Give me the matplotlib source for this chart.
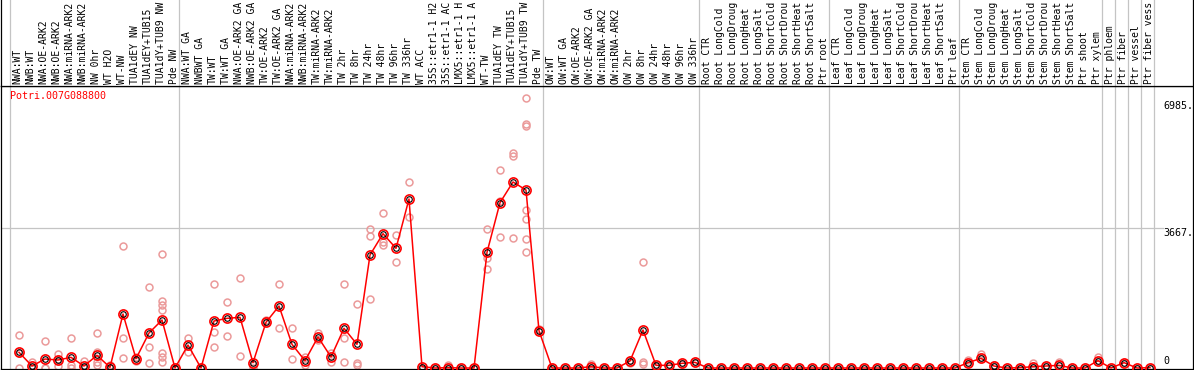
import matplotlib
matplotlib.use("Agg")
import matplotlib.pyplot as plt
import matplotlib.transforms as mtransforms

# sample labels, one per column (as far as they are visible)
labels = [
    "NWA:WT", "NWB:WT", "NWA:OE-ARK2", "NWB:OE-ARK2", "NWA:miRNA-ARK2", "NWB:miRNA-ARK2",
    "NW 0hr", "WT H2O", "WT-NW", "TUA1dEY NW", "TUA1dEY+TUB15", "TUA1dY+TUB9 NW", "Pde NW",
    "NWA:WT GA", "NWBWT GA", "TW:WT", "TW:WT GA", "NWA:OE-ARK2 GA", "NWB:OE-ARK2 GA",
    "TW:OE-ARK2", "TW:OE-ARK2 GA", "NWA:miRNA-ARK2", "NWB:miRNA-ARK2", "TW:miRNA-ARK2",
    "TW:miRNA-ARK2", "TW 2hr", "TW 8hr", "TW 24hr", "TW 48hr", "TW 96hr", "TW 336hr",
    "WT ACC", "35S::etr1-1 H2", "35S::etr1-1 AC", "LMX5::etr1-1 H", "LMX5::etr1-1 A",
    "WT-TW", "TUA1dEY TW", "TUA1dEY+TUB15", "TUA1dY+TUB9 TW", "Pde TW",
    "OW:WT", "OW:WT GA", "OW:OE-ARK2", "OW:OE-ARK2 GA", "OW:miRNA-ARK2", "OW:miRNA-ARK2",
    "OW 2hr", "OW 8hr", "OW 24hr", "OW 48hr", "OW 96hr", "OW 336hr",
    "Root CTR", "Root LongCold", "Root LongDroug", "Root LongHeat", "Root LongSalt",
    "Root ShortCold", "Root ShortDrou", "Root ShortHeat", "Root ShortSalt", "Ptr root",
    "Leaf CTR", "Leaf LongCold", "Leaf LongDroug", "Leaf LongHeat", "Leaf LongSalt",
    "Leaf ShortCold", "Leaf ShortDrou", "Leaf ShortHeat", "Leaf ShortSalt", "Ptr leaf",
    "Stem CTR", "Stem LongCold", "Stem LongDroug", "Stem LongHeat", "Stem LongSalt",
    "Stem ShortCold", "Stem ShortDrou", "Stem ShortHeat", "Stem ShortSalt", "Ptr shoot",
    "Ptr xylem", "Ptr phloem", "Ptr fiber", "Ptr vessel", "Ptr fiber vess",
]

# mean expression per sample
means = [
    411, 52, 236, 209, 280, 52, 332, 17, 1414, 244, 917, 1257, 0,
    602, 0, 1231, 1301, 1327, 140, 1197, 1624, 620, 191, 812, 288, 1040, 620,
    2960, 3518, 3135, 4426, 35, 0, 9, 0, 0, 3030, 4330, 4872, 4662, 977,
    0, 0, 0, 35, 0, 0, 183, 995, 70, 70, 123, 148,
    0, 0, 0, 0, 0, 0, 0, 0, 0, 0,
    0, 0, 0, 0, 0, 0, 0, 0, 0, 0,
    140, 253, 52, 0, 9, 35, 52, 70, 0, 0, 192,
    0, 140, 0, 9,
]

# replicate values per sample
reps = [
    [860, 380, 0], [165, 0, 0], [707, 0, 0], [367, 210, 52], [778, 79, 0], [183, 0, 0],
    [908, 427, 165, 79], [79, 0], [3187, 778, 254], [296, 183], [2113, 550, 123],
    [2977, 1755, 1650, 1519, 385, 296, 165], [0, 0],
    [778, 427], [0, 0], [2192, 935, 550], [1720, 846], [2349, 306], [79, 0],
    [1257, 1213], [2192, 1040], [1040, 228], [296, 79], [908, 733], [385, 165],
    [2192, 778, 165], [1668, 123, 79], [3640, 3457, 1799], [4052, 3308, 3221],
    [3483, 2768], [4864, 3963], [0, 0], [0, 0], [79, 0], [0, 0], [0, 0],
    [3640, 2889, 2593], [5186, 4374, 3431], [5623, 5553, 3397],
    [7064, 6382, 6338, 4138, 3894, 3370, 3030], [1013, 960],
    [0, 0], [0, 0], [0, 0], [105, 0], [0, 0], [0, 0], [123, 210], [2776, 165, 96],
    [70, 60], [70, 60], [140, 110], [165, 130],
    [0], [0], [0], [0], [0], [0], [0], [0], [0], [0],
    [0], [0], [0], [0], [0], [0], [0], [0], [0], [0],
    [210, 140], [358, 253], [70, 52], [0], [9], [123, 35], [52], [165, 70], [0], [0],
    [280, 192],
    [0], [140], [0], [9],
]

# first column of each separated block
group_starts = [0, 13, 41, 53, 63, 73, 84, 85, 86, 87, 88]
ytick_vals = [6985, 3667]
gene = "Potri.007G088800"

W, H = 1194, 370
fig = plt.figure(figsize=(W / 100, H / 100), dpi=100)
mono = "DejaVu Sans Mono"

ax = fig.add_axes([1 / W, 1 / H, 1192 / W, 283 / H])
axl = fig.add_axes([1 / W, 284 / H, 1192 / W, 86 / H])

xlim = (-9 / 13, 1183 / 13)
for a in (ax, axl):
    a.set_xlim(*xlim)
    a.set_xticks([])
    a.set_yticks([])
    for s in a.spines.values():
        s.set_linewidth(0.9)
        s.set_color("black")
    for g in group_starts:
        a.axvline(g, color="#c4c4c4", lw=0.9, zorder=0)
axl.spines["top"].set_visible(False)
axl.set_ylim(0, 1)

ax.set_ylim(-26, 7386)
ax.axhline(3667, xmax=(1163 - 1) / 1192, color="#c4c4c4", lw=0.9, zorder=0)

xs = [i + 9 / 13 for i in range(len(means))]

# replicates
rx, ry = [], []
for x, r in zip(xs, reps):
    rx += [x] * len(r)
    ry += r
ax.plot(rx, ry, "o", ms=5, mfc="none", mec="#eb9a9a", mew=1.1, zorder=2, clip_on=False)

# mean line and markers
ax.plot(xs, means, "-", color="red", lw=1.1, zorder=3, clip_on=False)
ax.plot(xs, means, "o", ms=6.6, mfc="none", mec="red", mew=1.2, zorder=4, clip_on=False)
ax.plot(xs, means, "o", ms=4.0, mfc="none", mec="black", mew=0.8, zorder=5, clip_on=False)

# sample labels
for i, lab in enumerate(labels):
    axl.text(i + 0.6, 2 / 86, lab, rotation=90, ha="center", va="bottom",
             family=mono, fontsize=7.0, color="black")

# gene name
trans = mtransforms.blended_transform_factory(ax.transData, ax.transAxes)
ax.text(-0.02, 1 - 5 / 283, gene, transform=trans, ha="left", va="top",
        family=mono, fontsize=7.2, color="red")

# value labels on the right
xt = (1163 - 10) / 13
for v in ytick_vals:
    ax.text(xt, v, f"{v}.", ha="left", va="top", family=mono, fontsize=7.2)
ax.text(xt, 60, "0", ha="left", va="bottom", family=mono, fontsize=7.2)

fig.savefig("out.png", dpi=100)
